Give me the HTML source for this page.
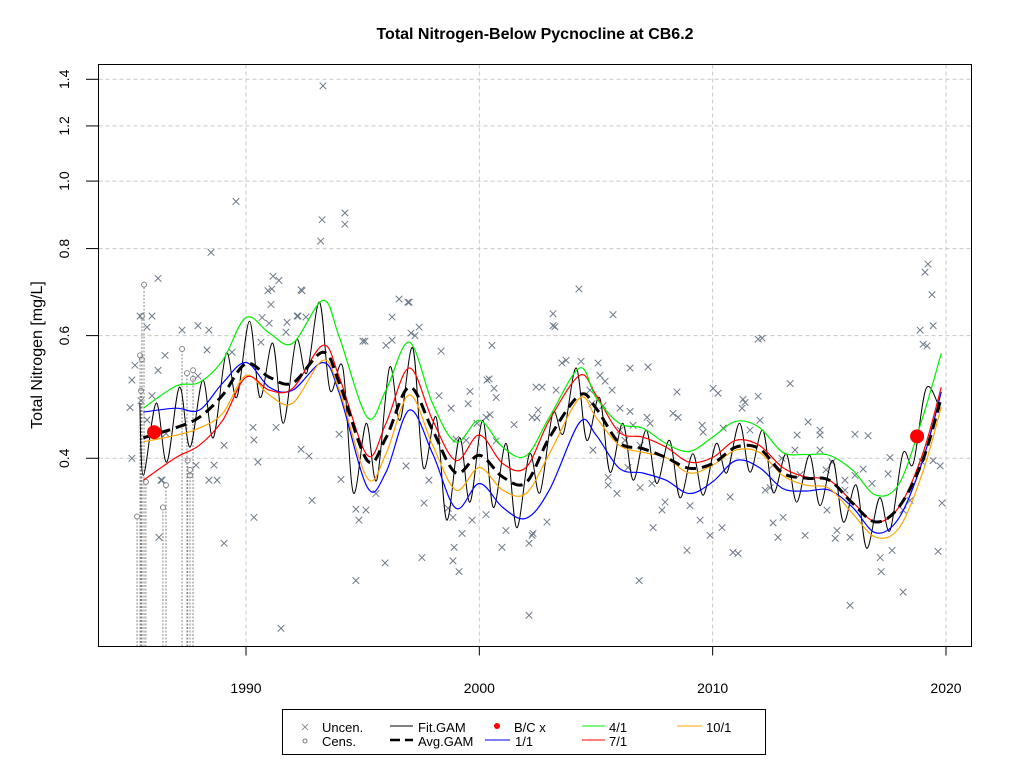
<!DOCTYPE html>
<html><head><meta charset="utf-8"><style>
body{margin:0;background:#fff}
svg text{font-family:"Liberation Sans",Arial,sans-serif}
</style></head><body>
<svg id="chart" width="1024" height="768" viewBox="0 0 1024 768" xmlns="http://www.w3.org/2000/svg">
<rect x="0" y="0" width="1024" height="768" fill="#fff"/>
<text x="535" y="39" font-size="16" font-weight="bold" text-anchor="middle">Total Nitrogen-Below Pycnocline at CB6.2</text>
<text transform="translate(42,355) rotate(-90)" font-size="16" text-anchor="middle">Total Nitrogen [mg/L]</text>
<g id="grid"></g>
<g id="series"></g>
<rect x="98.5" y="64.5" width="873" height="582" fill="none" stroke="#000" stroke-width="1"/>
<g id="axes"></g>
<g>
<rect x="282.5" y="709.5" width="483" height="45" fill="#fff" stroke="#000"/>
<g><path d="M302 724l6 6M308 724l-6 6" stroke="#777" stroke-width="0.8"/><text x="322" y="732" font-size="13">Uncen.</text></g>
<g><circle cx="305" cy="741" r="2" fill="none" stroke="#777"/><text x="322" y="746" font-size="13">Cens.</text></g>
<g><line x1="390" y1="726" x2="413" y2="726" stroke="#000"/><text x="418" y="732" font-size="13">Fit.GAM</text></g>
<g><line x1="390" y1="740" x2="413" y2="740" stroke="#000" stroke-width="2.5" stroke-dasharray="10 5"/><text x="418" y="746" font-size="13">Avg.GAM</text></g>
<g><circle cx="497" cy="726" r="3" fill="#f00"/><text x="514" y="732" font-size="13">B/C x</text></g>
<g><line x1="485" y1="740" x2="510" y2="740" stroke="#00f"/><text x="515" y="746" font-size="13">1/1</text></g>
<g><line x1="582" y1="726" x2="605" y2="726" stroke="#0e0"/><text x="609" y="732" font-size="13">4/1</text></g>
<g><line x1="582" y1="740" x2="605" y2="740" stroke="#f00"/><text x="609" y="746" font-size="13">7/1</text></g>
<g><line x1="677" y1="726" x2="702" y2="726" stroke="#ffa500"/><text x="706" y="732" font-size="13">10/1</text></g>
</g>
</svg>
<script>
const yTicks=[0.4,0.6,0.8,1.0,1.2,1.4];
const yTickLabels=["0.4","0.6","0.8","1.0","1.2","1.4"];
const xTicks=[1990,2000,2010,2020];
const curveYears=[1985.6,1987,1988,1989,1990,1991,1992,1993.3,1994,1995.2,1996,1997,1998,1999,2000,2001,2002,2003,2004.3,2005,2006,2007,2008,2009,2010,2011,2012,2013,2014,2015,2016,2017,2018,2019,2019.8];
const green41=[0.472,0.508,0.514,0.553,0.637,0.605,0.585,0.674,0.597,0.458,0.501,0.587,0.479,0.422,0.4535,0.415,0.403,0.458,0.539,0.489,0.449,0.442,0.420,0.409,0.429,0.452,0.443,0.408,0.405,0.404,0.3845,0.354,0.368,0.458,0.566];
const red71=[0.372,0.401,0.4175,0.4535,0.523,0.501,0.504,0.581,0.523,0.404,0.449,0.539,0.4535,0.397,0.432,0.393,0.388,0.4535,0.526,0.493,0.436,0.429,0.415,0.395,0.401,0.4245,0.4175,0.388,0.376,0.372,0.346,0.324,0.341,0.406,0.506];
const orange101=[0.4225,0.4315,0.442,0.464,0.526,0.493,0.480,0.553,0.501,0.3745,0.406,0.493,0.4175,0.360,0.388,0.360,0.356,0.406,0.488,0.458,0.4175,0.408,0.401,0.381,0.391,0.411,0.408,0.378,0.366,0.362,0.333,0.308,0.318,0.382,0.474];
const blue11=[0.466,0.472,0.469,0.513,0.549,0.506,0.501,0.549,0.496,0.3635,0.382,0.469,0.406,0.339,0.368,0.340,0.328,0.360,0.4505,0.432,0.387,0.381,0.372,0.356,0.370,0.397,0.388,0.362,0.359,0.360,0.340,0.3125,0.329,0.397,0.498];
const avgGam=[0.428,0.4425,0.458,0.493,0.547,0.523,0.513,0.568,0.513,0.397,0.428,0.506,0.4388,0.381,0.404,0.376,0.369,0.428,0.493,0.472,0.421,0.413,0.401,0.387,0.393,0.415,0.413,0.381,0.3745,0.372,0.3445,0.324,0.341,0.397,0.489];
const fitPeakYears=[1986,1987,1988,1989,1990,1991,1992,1993,1994,1995,1996,1997,1998,1999,2000,2001,2002,2003,2004,2005,2006,2007,2008,2009,2010,2011,2012,2013,2014,2015,2016,2017,2018,2019];
const fitPeaks=[0.48,0.506,0.518,0.566,0.629,0.585,0.591,0.67,0.54,0.449,0.54,0.576,0.458,0.428,0.4535,0.42,0.406,0.464,0.539,0.489,0.449,0.439,0.4245,0.406,0.42,0.449,0.439,0.406,0.404,0.397,0.366,0.351,0.406,0.504];
const fitTroughYears=[1985,1986,1987,1988,1989,1990,1991,1992,1993,1994,1995,1996,1997,1998,1999,2000,2001,2002,2003,2004,2005,2006,2007,2008,2009,2010,2011,2012,2013,2014,2015,2016,2017,2018];
const fitTroughs=[0.378,0.395,0.415,0.428,0.489,0.489,0.449,0.53,0.501,0.357,0.372,0.4535,0.388,0.326,0.346,0.34,0.318,0.357,0.434,0.4245,0.382,0.372,0.368,0.351,0.354,0.381,0.382,0.357,0.346,0.342,0.324,0.297,0.315,0.393];
const uncenYears=[1993.3,1989.57,1993.26,1994.24,1994.24,1993.2,1988.5,1986.23,1991.16,1991.41,1990.94,1992.4,1996.56,1996.94,2004.27,2003.16,2003.16,2005.73,2019.4,2019.23,2019.1,2019.45,1985.46,1985.97,1985.76,1987.26,1987.94,1988.41,1990.69,1991.76,1992.19,1989.4,1996.26,1997.24,1995.01,2011.95,2019.19,2018.89,1986.53,1985.24,1986.23,1987.94,1988.33,1991.11,1992.36,1991.07,1992.23,1992.57,1990.99,1990.64,1991.71,1995.1,1996.0,1996.26,1996.99,1997.07,1997.42,1998.36,2000.54,2000.42,2000.63,2000.72,1999.52,1998.27,1998.79,2001.49,2002.43,2002.26,2000.29,1990.3,1991.29,1990.34,1992.36,1992.7,1990.51,1988.63,1989.06,1987.86,1988.41,1988.76,1986.36,1993.99,1994.07,1992.83,1990.34,1994.71,1994.84,1995.14,1995.57,1996.86,1997.63,1997.84,1998.92,1999.26,1999.69,2000.29,2001.14,2002.26,2002.13,2000.97,1997.54,1989.06,1986.27,1999.0,1999.43,2003.24,2005.09,2003.54,2006.46,2007.23,2002.69,2005.17,2005.39,2002.52,2002.47,2013.32,2012.12,2019.02,2010.02,2010.23,2008.47,2011.95,2011.3,2011.26,2008.3,2008.52,2009.55,2009.59,2010.45,2014.09,2013.62,2014.6,2014.6,2016.1,2016.66,2007.19,2007.32,2006.03,2006.46,2004.83,2004.87,2006.37,2005.52,2005.52,2005.9,2006.89,2007.4,2007.96,2007.83,2009.46,2009.03,2010.75,2010.4,2009.89,2012.46,2013.02,2012.59,2012.8,2013.96,2014.9,2015.33,2015.25,2015.89,2016.83,2017.6,2017.52,2018.46,2018.16,2019.83,2019.66,2017.69,2017.18,2019.75,2019.45,2018.98,2008.9,2010.87,2011.09,2007.45,2002.9,2002.3,1991.5,2002.13,2006.85,1994.71,1999.13,1998.87,1995.96,2015.89,2018.16,2017.22,1985.11,1985.03,1985.5,1985.97,1985.76,1986.57,1985.11,1986.4,2003.29,2003.72,2004.36,2004.74,2005.3,2005.69,2006.03,2006.59,2006.24,2006.89,2014.6,2015.12,2015.67,2015.67,2016.1,2016.45,2014.86,1998.66,1998.87,2011.39,2011.6,2012.03,2012.97,2013.53,2013.75,2012.59,2012.25,2000.33,1999.6,2000.46,1999.9,2000.72];
const uncenValues=[1.37,0.935,0.88,0.90,0.867,0.82,0.79,0.725,0.73,0.72,0.696,0.696,0.677,0.67,0.70,0.645,0.62,0.643,0.687,0.76,0.74,0.62,0.64,0.64,0.617,0.611,0.62,0.611,0.637,0.627,0.64,0.568,0.591,0.60,0.589,0.593,0.58,0.611,0.562,0.544,0.535,0.525,0.572,0.70,0.698,0.665,0.64,0.638,0.625,0.587,0.607,0.589,0.581,0.638,0.67,0.605,0.617,0.57,0.581,0.52,0.504,0.489,0.479,0.492,0.472,0.447,0.506,0.458,0.458,0.443,0.443,0.425,0.412,0.403,0.395,0.391,0.4175,0.391,0.372,0.372,0.372,0.433,0.373,0.348,0.329,0.338,0.326,0.337,0.356,0.39,0.345,0.372,0.298,0.312,0.326,0.332,0.315,0.31,0.302,0.298,0.288,0.302,0.308,0.426,0.4245,0.618,0.548,0.548,0.539,0.541,0.506,0.526,0.516,0.469,0.457,0.512,0.595,0.583,0.504,0.496,0.498,0.491,0.486,0.472,0.464,0.458,0.446,0.436,0.442,0.451,0.432,0.439,0.432,0.433,0.431,0.458,0.449,0.472,0.467,0.479,0.411,0.388,0.3755,0.366,0.356,0.363,0.368,0.346,0.337,0.326,0.342,0.352,0.318,0.31,0.363,0.329,0.323,0.308,0.31,0.337,0.315,0.307,0.308,0.368,0.401,0.38,0.348,0.337,0.345,0.294,0.295,0.288,0.39,0.397,0.395,0.295,0.293,0.292,0.318,0.324,0.312,0.228,0.238,0.267,0.267,0.275,0.285,0.283,0.246,0.257,0.275,0.518,0.473,0.484,0.492,0.454,0.434,0.40,0.372,0.501,0.553,0.551,0.501,0.476,0.501,0.439,0.446,0.4245,0.4175,0.411,0.395,0.372,0.36,0.378,0.386,0.385,0.339,0.329,0.481,0.439,0.4535,0.40,0.411,0.379,0.391,0.36,0.518,0.499,0.462,0.449,0.4235];
const censYears=[1985.63,1985.54,1985.46,1985.54,1985.5,1985.33,1985.71,1986.44,1986.57,1987.26,1987.47,1987.73,1987.73,1987.5,1987.6,1987.6];
const censValues=[0.71,0.64,0.562,0.555,0.50,0.33,0.37,0.34,0.366,0.574,0.53,0.535,0.52,0.397,0.385,0.378];
const bcYears=[1986.06,2018.76];
const bcValues=[0.436,0.43];

const NS="http://www.w3.org/2000/svg";
const X0=98.5,X1=971.5,Y0=64.5,Y1=646.5;
function xs(yr){return 246+(yr-1990)*23.333;}
function ys(v){return 79.3-(Math.log(v)-Math.log(1.4))*302.5;}
function mk(tag,attrs,parent){const e=document.createElementNS(NS,tag);for(const k in attrs)e.setAttribute(k,attrs[k]);parent.appendChild(e);return e;}
function smoothPath(pts){
  let d="M"+pts[0][0].toFixed(1)+" "+pts[0][1].toFixed(1);
  for(let i=0;i<pts.length-1;i++){
    const p0=pts[i-1]||pts[i],p1=pts[i],p2=pts[i+1],p3=pts[i+2]||p2;
    const c1=[p1[0]+(p2[0]-p0[0])/6,p1[1]+(p2[1]-p0[1])/6];
    const c2=[p2[0]-(p3[0]-p1[0])/6,p2[1]-(p3[1]-p1[1])/6];
    d+="C"+c1[0].toFixed(1)+" "+c1[1].toFixed(1)+" "+c2[0].toFixed(1)+" "+c2[1].toFixed(1)+" "+p2[0].toFixed(1)+" "+p2[1].toFixed(1);
  }
  return d;
}
const grid=document.getElementById('grid');
const axes=document.getElementById('axes');
const series=document.getElementById('series');
yTicks.forEach((t,i)=>{
  const y=ys(t);
  const g=mk('line',{x1:X0,x2:X1,y1:y,y2:y,stroke:'#c8c8c8','stroke-dasharray':'4 3'},grid);
  
  
  const tk=mk('line',{x1:86,x2:X0,y1:y,y2:y,stroke:'#000'},axes);
  
  
  const tx=mk('text',{transform:'translate(69,'+y+') rotate(-90)','font-size':'14','text-anchor':'middle'},axes);
  tx.textContent=yTickLabels[i];
  
  
});
xTicks.forEach(t=>{
  const x=xs(t);
  const g=mk('line',{x1:x,x2:x,y1:Y0,y2:Y1,stroke:'#c8c8c8','stroke-dasharray':'4 3'},grid);
  
  
  const tk=mk('line',{x1:x,x2:x,y1:Y1,y2:Y1+9,stroke:'#000'},axes);
  
  
  const tx=mk('text',{x:x,y:693,'font-size':'14','text-anchor':'middle'},axes);
  tx.textContent=String(t);
  
  
});
// censored
censYears.forEach((yr,i)=>{
  const x=xs(yr),y=ys(censValues[i]);
  const l=mk('line',{x1:x,x2:x,y1:Y1,y2:y+2.5,stroke:'#888','stroke-dasharray':'2 1.5','stroke-width':'1'},series);
  
  
  const c=mk('circle',{cx:x,cy:y,r:2.5,fill:'none',stroke:'#888'},series);
  
  
});
// uncensored
uncenYears.forEach((yr,i)=>{
  const x=xs(yr),y=ys(uncenValues[i]),s=3.3;
  const p=mk('path',{d:`M${x-s} ${y-s}L${x+s} ${y+s}M${x+s} ${y-s}L${x-s} ${y+s}`,stroke:'#6e7a88','stroke-width':'1'},series);
  
  
});
// fit gam zigzag
const fitPts=[[1985.45,0.48]];
for(let i=0;i<fitTroughYears.length;i++){
  fitPts.push([fitTroughYears[i]+0.6,fitTroughs[i]]);
  if(i<fitPeakYears.length)fitPts.push([fitPeakYears[i]+0.15,fitPeaks[i]]);
}
fitPts.push([2019.75,0.47]);
const fit=mk('path',{d:smoothPath(fitPts.map(p=>[xs(p[0]),ys(p[1])])),fill:'none',stroke:'#000','stroke-width':'1'},series);


function curve(vals,color,name,w,dash){
  const p=mk('path',{d:smoothPath(curveYears.map((yr,i)=>[xs(yr),ys(vals[i])])),fill:'none',stroke:color,'stroke-width':w},series);
  if(dash)p.setAttribute('stroke-dasharray',dash);
  
  
}
curve(blue11,'#00f','line-1-1',1.2);
curve(orange101,'#ffa500','line-10-1',1.2);
curve(red71,'#f00','line-7-1',1.2);
curve(green41,'#0e0','line-4-1',1.2);
curve(avgGam,'#000','avg-gam-line',3,'11 6');
bcYears.forEach((yr,i)=>{
  const c=mk('circle',{cx:xs(yr),cy:ys(bcValues[i]),r:7,fill:'#f00'},series);
  
  
});
</script>
</body></html>
